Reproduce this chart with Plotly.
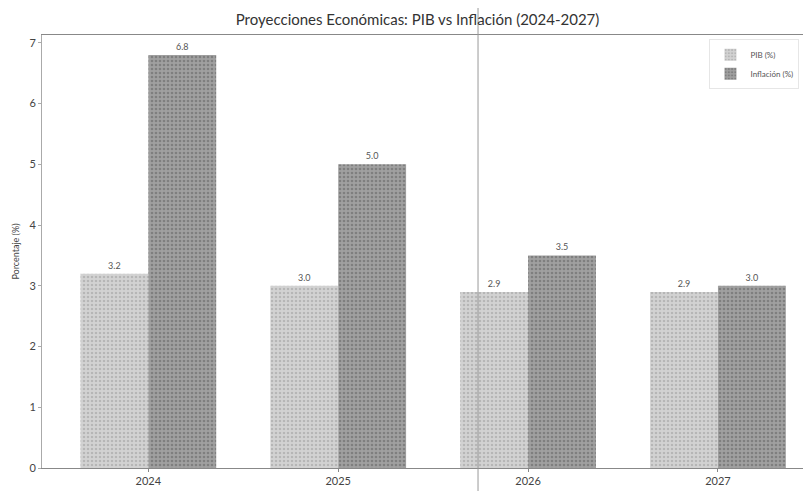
import plotly.graph_objects as go

# Economic projections: GDP vs inflation
years = ['2024', '2025', '2026', '2027']
pib = [3.2, 3.0, 2.9, 2.9]
inflacion = [6.8, 5.0, 3.5, 3.0]

font_family = 'Lato, "Noto Sans", sans-serif'

fig = go.Figure()

fig.add_trace(go.Bar(
    x=years, y=pib, name='PIB (%)',
    marker=dict(color='#c9c9c9', line=dict(width=0),
                pattern=dict(shape='.', fgcolor='#9a9a9a', bgcolor='#d2d2d2', size=4, solidity=0.3)),
    text=[f'{v:.1f}' for v in pib], textposition='outside',
    textfont=dict(size=9, color='#555555'), cliponaxis=False))

fig.add_trace(go.Bar(
    x=years, y=inflacion, name='Inflación (%)',
    marker=dict(color='#8f8f8f', line=dict(width=0),
                pattern=dict(shape='.', fgcolor='#5e5e5e', bgcolor='#a0a0a0', size=4, solidity=0.35)),
    text=[f'{v:.1f}' for v in inflacion], textposition='outside',
    textfont=dict(size=9, color='#555555'), cliponaxis=False))

# the page has an 8px body margin, so the figure is sized to end at the window edge
fig.update_layout(
    title=dict(text='Proyecciones Económicas: PIB vs Inflación (2024-2027)',
               x=0.51, xanchor='center', y=0.975, yanchor='middle',
               font=dict(size=15, color='#333333', family=font_family)),
    barmode='group', bargap=0.285, bargroupgap=0,
    width=803, height=483,
    margin=dict(l=34, r=0, t=27, b=23),
    plot_bgcolor='white', paper_bgcolor='white',
    font=dict(family=font_family, color='#444444', size=10),
    legend=dict(x=0.985, y=0.99, xanchor='right', yanchor='top',
                bgcolor='rgba(255,255,255,0.9)', bordercolor='#e6e6e6', borderwidth=1,
                font=dict(size=8, color='#555555'), itemwidth=30, tracegroupgap=0),
    showlegend=True,
)

fig.update_xaxes(showline=True, linecolor='#888888', linewidth=1, mirror=True,
                 ticks='outside', ticklen=3, tickcolor='#888888',
                 range=[-0.56, 3.49], tickfont=dict(size=11))
fig.update_yaxes(showline=True, linecolor='#aaaaaa', linewidth=1,
                 ticks='outside', ticklen=3, tickcolor='#aaaaaa',
                 range=[0, 7.13], dtick=1, showgrid=False, zeroline=False,
                 title=dict(text='Porcentaje (%)', font=dict(size=9), standoff=8),
                 tickfont=dict(size=11))

# faint vertical scan line seen on the original page
fig.add_shape(type='line', xref='paper', yref='paper', x0=0.567, x1=0.567, y0=-0.06, y1=1.08,
              line=dict(color='#999999', width=1))

fig.write_html('out.html')
